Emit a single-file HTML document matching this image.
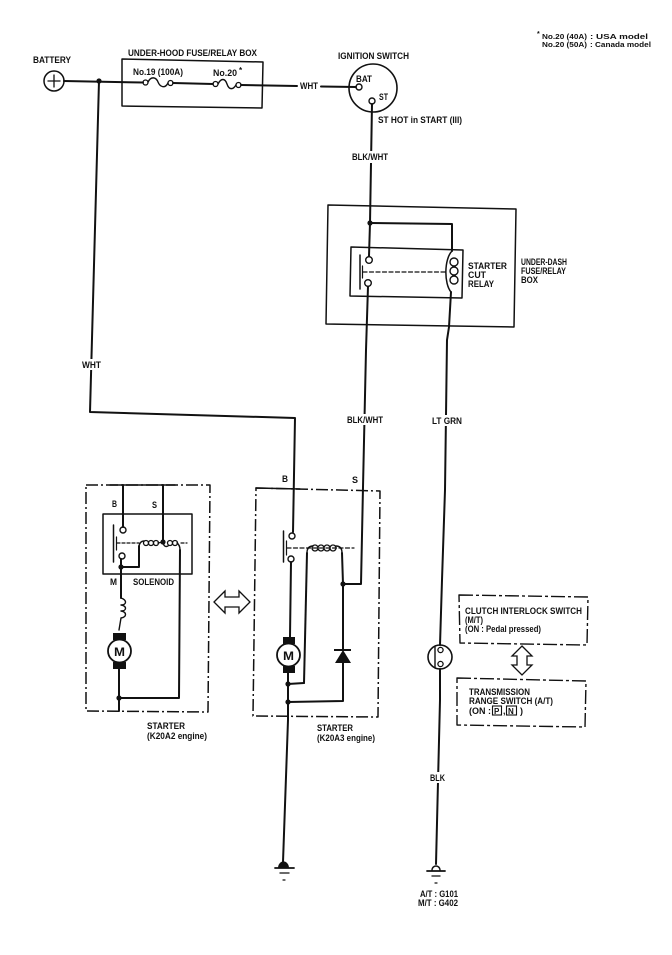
<!DOCTYPE html>
<html><head><meta charset="utf-8"><style>
html,body{margin:0;padding:0;background:#fff;}
svg{display:block;}
text{font-family:"Liberation Sans",Arial,sans-serif;font-weight:bold;fill:#111;}
</style></head><body>
<svg width="672" height="955" viewBox="0 0 672 955" xmlns="http://www.w3.org/2000/svg">
<g fill="none" stroke="#111" stroke-width="2" stroke-linejoin="round" stroke-linecap="round">
<!-- Battery -->
<circle cx="54" cy="81" r="10" stroke-width="1.5"/>
<line x1="48" y1="81" x2="60" y2="81" stroke-width="1.3"/>
<line x1="54" y1="75" x2="54" y2="87" stroke-width="1.3"/>
<!-- main top wire -->
<polyline points="64,81 143,82.5"/>
<polyline points="173,83 213,84"/>
<polyline points="241,85 297,86"/>
<polyline points="321,86.5 356,87"/>
<!-- fuses -->
<circle cx="145.5" cy="82.5" r="2.5" stroke-width="1.3"/>
<circle cx="170.5" cy="83" r="2.5" stroke-width="1.3"/>
<path d="M148,82 C151,76 156,77 158,82 S165,89 168,83" stroke-width="1.4"/>
<circle cx="215.5" cy="84" r="2.5" stroke-width="1.3"/>
<circle cx="238.5" cy="85" r="2.5" stroke-width="1.3"/>
<path d="M218,84 C221,78 225,78 227,84 S233,90 236,85" stroke-width="1.4"/>
<!-- fuse box -->
<path d="M122,59 L263,62 L262,108 L122,106 Z" stroke-width="1.5"/>
<!-- ignition switch -->
<circle cx="373" cy="88" r="24" stroke-width="1.6"/>
<circle cx="359" cy="87" r="3" stroke-width="1.4"/>
<circle cx="372" cy="101" r="3" stroke-width="1.4"/>
<polyline points="372,104 370,223 369,256"/>
<!-- WHT wire to starter -->
<polyline points="99,81 90,412 295,418 293,532"/>
<!-- relay outer & inner box -->
<path d="M328,205 L516,209 L514,327 L326,324 Z" stroke-width="1.5"/>
<path d="M351,247 L463,250 L462,298 L350,296 Z" stroke-width="1.5"/>
<polyline points="370,223 452,224 452,251"/>
<path d="M452,251 C444,259 444,284 451,292" stroke-width="1.5"/>
<circle cx="454" cy="262" r="4" stroke-width="1.4"/>
<circle cx="454" cy="271" r="4" stroke-width="1.4"/>
<circle cx="454" cy="280" r="4" stroke-width="1.4"/>
<circle cx="369" cy="260" r="3.3" stroke-width="1.4"/>
<circle cx="368" cy="283" r="3.3" stroke-width="1.4"/>
<line x1="360" y1="255" x2="360" y2="289" stroke-width="1.5"/>
<line x1="362.5" y1="266" x2="362.5" y2="278" stroke-width="1.2"/>
<line x1="363" y1="272" x2="446" y2="272" stroke-width="1.2" stroke-dasharray="4,2.5"/>
<polyline points="368,286.5 366,350 363,487 361,584 343,584"/>
<polyline points="451,292 449,327 447,340 445,490 442,580 440,645"/>
<!-- switch on LT GRN -->
<circle cx="440" cy="657" r="12" stroke-width="1.6"/>
<circle cx="440.5" cy="650" r="2.6" stroke-width="1.3"/>
<circle cx="440.5" cy="664" r="2.6" stroke-width="1.3"/>
<line x1="435" y1="647" x2="435" y2="668" stroke-width="1.4"/>
<polyline points="440,669 440,700 436,864"/>
<!-- right ground -->
<path d="M432,870 A4,4 0 0 1 440,870" stroke-width="1.5"/>
<line x1="427" y1="871" x2="445" y2="871" stroke-width="1.8"/>
<line x1="432" y1="876" x2="440" y2="876" stroke-width="1.3"/>
<line x1="435" y1="883" x2="437" y2="883" stroke-width="1.2"/>
<!-- clutch & transmission boxes -->
<path d="M459,595 L588,597 L587,645 L460,643 Z" stroke-width="1.4" stroke-dasharray="14,3,3,3" stroke-linecap="butt"/>
<path d="M457,678 L586,681 L585,727 L457,725 Z" stroke-width="1.4" stroke-dasharray="14,3,3,3" stroke-linecap="butt"/>
<path d="M522,646 L532,656 L527,656 L527,665 L532,665 L522,675 L512,665 L517,665 L517,656 L512,656 Z" stroke-width="1.3" stroke-linejoin="miter"/>
<!-- horizontal double arrow -->
<path d="M214,602 L225,591 L225,597 L239,597 L239,591 L250,602 L239,613 L239,607 L225,607 L225,613 Z" stroke-width="1.3" stroke-linejoin="miter"/>

<!-- LEFT STARTER -->
<path d="M86,485 L210,485 L208,712 L86,711 Z" stroke-width="1.5" stroke-dasharray="12,3,2,3" stroke-linecap="butt"/>
<line x1="110" y1="485" x2="175" y2="485" stroke-width="1.5"/>
<rect x="103" y="514" width="89" height="60" stroke-width="1.5"/>
<polyline points="123,485 123,527"/>
<polyline points="163,485 163,542"/>
<circle cx="123" cy="530" r="3" stroke-width="1.4"/>
<circle cx="122" cy="556" r="3" stroke-width="1.4"/>
<line x1="113.5" y1="525" x2="113.5" y2="562" stroke-width="1.5"/>
<line x1="116.5" y1="537" x2="116.5" y2="550" stroke-width="1.2"/>
<line x1="117" y1="543" x2="139" y2="543" stroke-width="1.2" stroke-dasharray="3,2"/>
<line x1="181" y1="543" x2="187" y2="543" stroke-width="1.2" stroke-dasharray="3,2"/>
<polyline points="121,559 121,567 139,567 139,546" />
<path d="M139,546 Q140,541 144,541" stroke-width="1.4"/>
<circle cx="146" cy="543" r="2.5" stroke-width="1.3"/>
<circle cx="151" cy="543" r="2.5" stroke-width="1.3"/>
<circle cx="156" cy="543" r="2.5" stroke-width="1.3"/>
<path d="M158,543 L163,542" stroke-width="1.4"/>
<path d="M163,542 Q164,548 168,546" stroke-width="1.4"/>
<circle cx="170" cy="543" r="2.5" stroke-width="1.3"/>
<circle cx="175" cy="543" r="2.5" stroke-width="1.3"/>
<path d="M177,543 Q180,545 180,550" stroke-width="1.4"/>
<polyline points="180,550 179,698 119,698"/>
<polyline points="121,567 121,598"/>
<path d="M121,598 C127,600 127,605 121,605 C127,606 127,611 121,611 C127,612 127,617 121,618 L119,630" stroke-width="1.4"/>
<line x1="119" y1="668" x2="119" y2="711"/>
<circle cx="119.5" cy="651" r="11.5" stroke-width="1.8"/>
<!-- RIGHT STARTER -->
<path d="M256,488 L380,491 L378,717 L253,716 Z" stroke-width="1.5" stroke-dasharray="12,3,2,3" stroke-linecap="butt"/>
<line x1="256" y1="488" x2="300" y2="489" stroke-width="1.5"/>
<circle cx="292" cy="536" r="3" stroke-width="1.4"/>
<circle cx="291" cy="559" r="3" stroke-width="1.4"/>
<line x1="283.5" y1="531" x2="283.5" y2="562" stroke-width="1.5"/>
<line x1="286.5" y1="541" x2="286.5" y2="555" stroke-width="1.2"/>
<line x1="287" y1="548" x2="354" y2="548" stroke-width="1.2" stroke-dasharray="4,2.5"/>
<polyline points="304,683 307,553"/>
<path d="M307,553 Q307,546 313,546" stroke-width="1.4"/>
<circle cx="315" cy="548" r="3" stroke-width="1.3"/>
<circle cx="321" cy="548" r="3" stroke-width="1.3"/>
<circle cx="327" cy="548" r="3" stroke-width="1.3"/>
<circle cx="333" cy="548" r="3" stroke-width="1.3"/>
<path d="M336,546 Q342,546 342,553" stroke-width="1.4"/>
<polyline points="342,553 343,584 343,650"/>
<polyline points="343,663 343,701 288,702"/>
<polyline points="304,683 288,684"/>
<polyline points="291,562 290,637"/>
<circle cx="288.5" cy="655" r="11.5" stroke-width="1.8"/>
<polyline points="288,673 288,720 283,862"/>
<!-- left ground -->
<line x1="275" y1="868" x2="294" y2="868" stroke-width="1.8"/>
<line x1="280" y1="873" x2="289" y2="873" stroke-width="1.3"/>
<line x1="283" y1="880" x2="285" y2="880" stroke-width="1.2"/>
</g>
<g fill="#111" stroke="none">
<circle cx="99" cy="81" r="2.6"/>
<circle cx="370" cy="223" r="2.6"/>
<circle cx="163" cy="542" r="2.6"/>
<circle cx="121" cy="567" r="2.6"/>
<circle cx="119" cy="698" r="2.6"/>
<circle cx="343" cy="584" r="2.6"/>
<circle cx="288" cy="684" r="2.6"/>
<circle cx="288" cy="702" r="2.6"/>
<path d="M278,868 A5,6 0 0 1 289,868 Z"/>
<!-- brushes -->
<rect x="113" y="633" width="13" height="7"/>
<rect x="113" y="662" width="13" height="7"/>
<rect x="283" y="637" width="12" height="7"/>
<rect x="283" y="666" width="12" height="7"/>
<!-- diode -->
<rect x="334" y="649" width="17" height="2"/>
<path d="M343,650 L335,663 L351,663 Z"/>
</g>
<!-- white label backgrounds -->
<g fill="#fff" stroke="none">
<rect x="80" y="359" width="23" height="11"/>
<rect x="350" y="151" width="40" height="12"/>
<rect x="345" y="414" width="40" height="11"/>
<rect x="430" y="415" width="34" height="11"/>
<rect x="428" y="772" width="19" height="11"/>
</g>
<!-- texts -->
<g font-size="9">
<text x="33" y="63" textLength="38" lengthAdjust="spacingAndGlyphs">BATTERY</text>
<text x="128" y="56" textLength="129" lengthAdjust="spacingAndGlyphs">UNDER-HOOD FUSE/RELAY BOX</text>
<text x="133" y="75" textLength="50" lengthAdjust="spacingAndGlyphs">No.19 (100A)</text>
<text x="213" y="76" textLength="24" lengthAdjust="spacingAndGlyphs">No.20</text>
<text x="239" y="73" font-size="8">*</text>
<text x="300" y="89" textLength="18" lengthAdjust="spacingAndGlyphs">WHT</text>
<text x="338" y="59" textLength="71" lengthAdjust="spacingAndGlyphs">IGNITION SWITCH</text>
<text x="356" y="82" textLength="16" lengthAdjust="spacingAndGlyphs">BAT</text>
<text x="379" y="100" textLength="9" lengthAdjust="spacingAndGlyphs">ST</text>
<text x="378" y="123" textLength="84" lengthAdjust="spacingAndGlyphs">ST HOT in START (III)</text>
<text x="352" y="160" textLength="36" lengthAdjust="spacingAndGlyphs">BLK/WHT</text>
<text x="468" y="269" textLength="39" lengthAdjust="spacingAndGlyphs">STARTER</text>
<text x="468" y="278" textLength="18" lengthAdjust="spacingAndGlyphs">CUT</text>
<text x="468" y="287" textLength="26" lengthAdjust="spacingAndGlyphs">RELAY</text>
<text x="521" y="265" textLength="46" lengthAdjust="spacingAndGlyphs">UNDER-DASH</text>
<text x="521" y="274" textLength="45" lengthAdjust="spacingAndGlyphs">FUSE/RELAY</text>
<text x="521" y="283" textLength="17" lengthAdjust="spacingAndGlyphs">BOX</text>
<text x="82" y="368" textLength="19" lengthAdjust="spacingAndGlyphs">WHT</text>
<text x="347" y="423" textLength="36" lengthAdjust="spacingAndGlyphs">BLK/WHT</text>
<text x="432" y="424" textLength="30" lengthAdjust="spacingAndGlyphs">LT GRN</text>
<text x="282" y="482" textLength="6" lengthAdjust="spacingAndGlyphs">B</text>
<text x="352" y="483" textLength="6" lengthAdjust="spacingAndGlyphs">S</text>
<text x="112" y="507" textLength="5" lengthAdjust="spacingAndGlyphs">B</text>
<text x="152" y="508" textLength="5" lengthAdjust="spacingAndGlyphs">S</text>
<text x="110" y="585" textLength="7" lengthAdjust="spacingAndGlyphs">M</text>
<text x="133" y="585" textLength="41" lengthAdjust="spacingAndGlyphs">SOLENOID</text>
<text x="147" y="729" textLength="38" lengthAdjust="spacingAndGlyphs">STARTER</text>
<text x="147" y="739" textLength="60" lengthAdjust="spacingAndGlyphs">(K20A2 engine)</text>
<text x="317" y="731" textLength="36" lengthAdjust="spacingAndGlyphs">STARTER</text>
<text x="317" y="741" textLength="58" lengthAdjust="spacingAndGlyphs">(K20A3 engine)</text>
<text x="465" y="614" textLength="117" lengthAdjust="spacingAndGlyphs">CLUTCH INTERLOCK SWITCH</text>
<text x="465" y="623" textLength="18" lengthAdjust="spacingAndGlyphs">(M/T)</text>
<text x="465" y="632" textLength="76" lengthAdjust="spacingAndGlyphs">(ON : Pedal pressed)</text>
<text x="469" y="695" textLength="61" lengthAdjust="spacingAndGlyphs">TRANSMISSION</text>
<text x="469" y="704" textLength="84" lengthAdjust="spacingAndGlyphs">RANGE SWITCH (A/T)</text>
<text x="469" y="714" textLength="22" lengthAdjust="spacingAndGlyphs">(ON :</text>
<text x="494" y="714" font-size="8">P</text>
<text x="503" y="714">,</text>
<text x="508" y="714" font-size="8">N</text>
<text x="520" y="714">)</text>
<text x="430" y="781" textLength="15" lengthAdjust="spacingAndGlyphs">BLK</text>
<text x="420" y="897" textLength="38" lengthAdjust="spacingAndGlyphs">A/T : G101</text>
<text x="418" y="906" textLength="40" lengthAdjust="spacingAndGlyphs">M/T : G402</text>
</g>
<g font-size="7.5">
<text x="537" y="36" font-size="7">*</text>
<text x="542" y="39" textLength="45" lengthAdjust="spacingAndGlyphs">No.20 (40A)</text>
<text x="590" y="39" textLength="58" lengthAdjust="spacingAndGlyphs">: USA model</text>
<text x="542" y="47" textLength="45" lengthAdjust="spacingAndGlyphs">No.20 (50A)</text>
<text x="590" y="47" textLength="61" lengthAdjust="spacingAndGlyphs">: Canada model</text>
</g>
<g fill="none" stroke="#111" stroke-width="1.1">
<rect x="492.5" y="706" width="9" height="9"/>
<rect x="506.5" y="706" width="10" height="9"/>
</g>
<g font-size="12">
<text x="114" y="656" textLength="11" lengthAdjust="spacingAndGlyphs">M</text>
<text x="283" y="660" textLength="11" lengthAdjust="spacingAndGlyphs">M</text>
</g>
</svg>
</body></html>
